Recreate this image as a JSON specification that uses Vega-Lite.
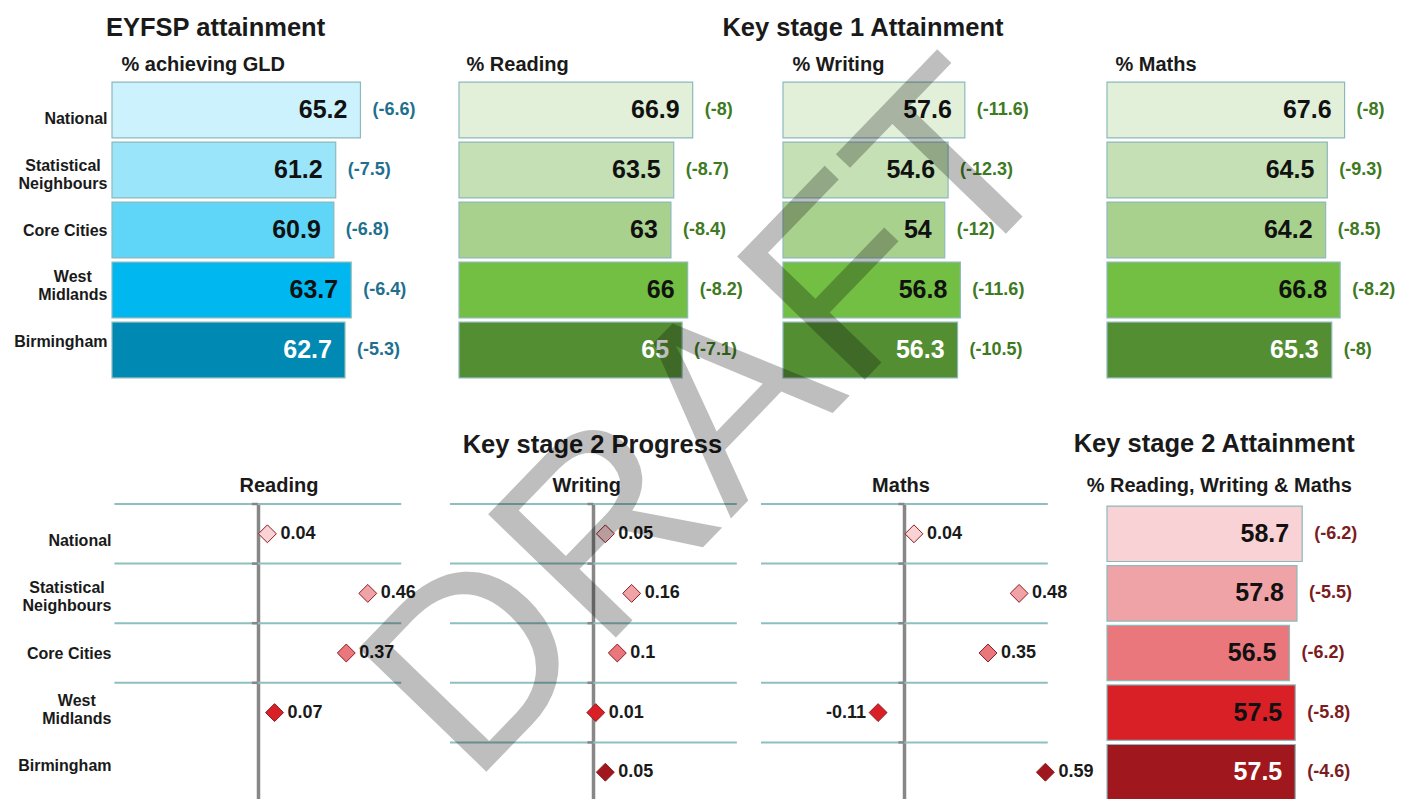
{
  "$schema": "https://vega.github.io/schema/vega-lite/v6.json",
  "padding": {"left": 13, "top": 16, "right": 10, "bottom": 0},
  "config": {
    "font": "Liberation Sans",
    "view": {"stroke": null},
    "title": {"fontSize": 25.5, "fontWeight": "bold", "color": "#1a1a1a", "anchor": "start", "frame": "group", "offset": 13},
    "axis": {"titleFontSize": 20, "titleFontWeight": "bold", "titleColor": "#1a1a1a"}
  },
  "datasets": {
    "eyfsp": [
      {"region": "National", "value": 65.2, "chg": "(-6.6)"},
      {"region": "Statistical Neighbours", "value": 61.2, "chg": "(-7.5)"},
      {"region": "Core Cities", "value": 60.9, "chg": "(-6.8)"},
      {"region": "West Midlands", "value": 63.7, "chg": "(-6.4)"},
      {"region": "Birmingham", "value": 62.7, "chg": "(-5.3)"}
    ],
    "ks1": [
      {"subject": "Reading", "region": "National", "value": 66.9, "chg": "(-8)"},
      {"subject": "Reading", "region": "Statistical Neighbours", "value": 63.5, "chg": "(-8.7)"},
      {"subject": "Reading", "region": "Core Cities", "value": 63, "chg": "(-8.4)"},
      {"subject": "Reading", "region": "West Midlands", "value": 66, "chg": "(-8.2)"},
      {"subject": "Reading", "region": "Birmingham", "value": 65, "chg": "(-7.1)"},
      {"subject": "Writing", "region": "National", "value": 57.6, "chg": "(-11.6)"},
      {"subject": "Writing", "region": "Statistical Neighbours", "value": 54.6, "chg": "(-12.3)"},
      {"subject": "Writing", "region": "Core Cities", "value": 54, "chg": "(-12)"},
      {"subject": "Writing", "region": "West Midlands", "value": 56.8, "chg": "(-11.6)"},
      {"subject": "Writing", "region": "Birmingham", "value": 56.3, "chg": "(-10.5)"},
      {"subject": "Maths", "region": "National", "value": 67.6, "chg": "(-8)"},
      {"subject": "Maths", "region": "Statistical Neighbours", "value": 64.5, "chg": "(-9.3)"},
      {"subject": "Maths", "region": "Core Cities", "value": 64.2, "chg": "(-8.5)"},
      {"subject": "Maths", "region": "West Midlands", "value": 66.8, "chg": "(-8.2)"},
      {"subject": "Maths", "region": "Birmingham", "value": 65.3, "chg": "(-8)"}
    ],
    "ks2p": [
      {"subject": "Reading", "region": "National", "value": 0.04},
      {"subject": "Reading", "region": "Statistical Neighbours", "value": 0.46},
      {"subject": "Reading", "region": "Core Cities", "value": 0.37},
      {"subject": "Reading", "region": "West Midlands", "value": 0.07},
      {"subject": "Reading", "region": "Birmingham", "value": null},
      {"subject": "Writing", "region": "National", "value": 0.05},
      {"subject": "Writing", "region": "Statistical Neighbours", "value": 0.16},
      {"subject": "Writing", "region": "Core Cities", "value": 0.1},
      {"subject": "Writing", "region": "West Midlands", "value": 0.01},
      {"subject": "Writing", "region": "Birmingham", "value": 0.05},
      {"subject": "Maths", "region": "National", "value": 0.04},
      {"subject": "Maths", "region": "Statistical Neighbours", "value": 0.48},
      {"subject": "Maths", "region": "Core Cities", "value": 0.35},
      {"subject": "Maths", "region": "West Midlands", "value": -0.11},
      {"subject": "Maths", "region": "Birmingham", "value": 0.59}
    ],
    "ks2a": [
      {"region": "National", "value": 58.7, "chg": "(-6.2)"},
      {"region": "Statistical Neighbours", "value": 57.8, "chg": "(-5.5)"},
      {"region": "Core Cities", "value": 56.5, "chg": "(-6.2)"},
      {"region": "West Midlands", "value": 57.5, "chg": "(-5.8)"},
      {"region": "Birmingham", "value": 57.5, "chg": "(-4.6)"}
    ]
  },
  "resolve": {"scale": {"x": "independent", "y": "independent", "fill": "independent"}},
  "spacing": -355,
  "vconcat": [
    {
      "hconcat": [
        {
          "width": 337, "height": 300,
          "data": {"name": "eyfsp"},
          "title": {"text": "EYFSP attainment", "dx": -6},
          "encoding": {
            "y": {"field": "region", "type": "nominal", "scale": {"domain": ["National", "Statistical Neighbours", "Core Cities", "West Midlands", "Birmingham"], "paddingInner": 0.07, "paddingOuter": 0.035}, "axis": null},
            "x": {"field": "value", "type": "quantitative", "scale": {"domain": [25, 79.53], "nice": false, "zero": false},
              "axis": {"orient": "top", "title": "% achieving GLD", "labels": false, "ticks": false, "domain": false, "grid": false, "titleX": 9, "titleY": -9.3, "titleAlign": "left", "titleBaseline": "alphabetic"}}
          },
          "layer": [
            {"mark": {"type": "bar", "stroke": "#8DB9BA", "strokeWidth": 1.2},
             "encoding": {"x2": {"datum": 25}, "fill": {"field": "region", "type": "nominal", "scale": {"domain": ["National", "Statistical Neighbours", "Core Cities", "West Midlands", "Birmingham"], "range": ["#CCF2FD", "#9BE5FB", "#5FD6F8", "#00B7EF", "#0089B3"]}, "legend": null}}},
            {"mark": {"type": "text", "align": "right", "baseline": "middle", "dx": -13, "fontSize": 25, "fontWeight": "bold"},
             "encoding": {"text": {"field": "value", "type": "nominal"}, "color": {"condition": {"test": "datum.region === 'Birmingham'", "value": "#ffffff"}, "value": "#111111"}}},
            {"mark": {"type": "text", "align": "left", "baseline": "middle", "dx": 12, "fontSize": 18, "fontWeight": "bold", "color": "#1F6F8F"},
             "encoding": {"text": {"field": "chg", "type": "nominal"}}},
            {"mark": {"type": "point", "opacity": 0},
             "encoding": {"y": {"field": "region", "type": "nominal", "scale": {"type": "point", "domain": ["National", "Statistical Neighbours", "Core Cities", "West Midlands", "Birmingham"], "padding": 0.7},
               "axis": {"orient": "left", "title": null, "ticks": false, "tickSize": 0, "domain": false, "grid": false, "labelFontSize": 16, "labelFontWeight": "bold", "labelColor": "#1a1a1a", "labelLineHeight": 18, "labelLimit": 200,
                 "labelPadding": {"condition": [{"test": "datum.value === 'Statistical Neighbours'", "value": 49.5}, {"test": "datum.value === 'West Midlands'", "value": 39.7}], "value": 5},
                 "labelAlign": {"condition": {"test": "datum.value === 'Statistical Neighbours' || datum.value === 'West Midlands'", "value": "center"}, "value": "right"},
                 "labelOffset": {"condition": {"test": "datum.value === 'Statistical Neighbours' || datum.value === 'West Midlands'", "value": -9}, "value": 0},
                 "labelExpr": "datum.value === 'Statistical Neighbours' ? ['Statistical', 'Neighbours'] : datum.value === 'West Midlands' ? ['West', 'Midlands'] : datum.label"}}}}
          ],
          "resolve": {"scale": {"y": "independent"}}
        },
        {
          "width": 314, "height": 300,
          "data": {"name": "ks1"},
          "transform": [{"filter": "datum.subject === 'Reading'"}],
          "encoding": {
            "y": {"field": "region", "type": "nominal", "scale": {"domain": ["National", "Statistical Neighbours", "Core Cities", "West Midlands", "Birmingham"], "paddingInner": 0.07, "paddingOuter": 0.035}, "axis": null},
            "x": {"field": "value", "type": "quantitative", "scale": {"domain": [25, 81.3], "nice": false, "zero": false},
              "axis": {"orient": "top", "title": "% Reading", "labels": false, "ticks": false, "domain": false, "grid": false, "titleX": 7, "titleY": -9.3, "titleAlign": "left", "titleBaseline": "alphabetic"}}
          },
          "layer": [
            {"mark": {"type": "bar", "stroke": "#8DB9BA", "strokeWidth": 1.2},
             "encoding": {"x2": {"datum": 25}, "fill": {"field": "region", "type": "nominal", "scale": {"domain": ["National", "Statistical Neighbours", "Core Cities", "West Midlands", "Birmingham"], "range": ["#E2F0D9", "#C5E0B4", "#A9D18E", "#72BF44", "#548E33"]}, "legend": null}}},
            {"mark": {"type": "text", "align": "right", "baseline": "middle", "dx": -13, "fontSize": 25, "fontWeight": "bold"},
             "encoding": {"text": {"field": "value", "type": "nominal"}, "color": {"condition": {"test": "datum.region === 'Birmingham'", "value": "#ffffff"}, "value": "#111111"}}},
            {"mark": {"type": "text", "align": "left", "baseline": "middle", "dx": 12, "fontSize": 18, "fontWeight": "bold", "color": "#3D7A22"},
             "encoding": {"text": {"field": "chg", "type": "nominal"}}}
          ]
        },
        {
          "width": 314, "height": 300,
          "data": {"name": "ks1"},
          "transform": [{"filter": "datum.subject === 'Writing'"}],
          "title": {"text": "Key stage 1 Attainment", "dx": -60.6},
          "encoding": {
            "y": {"field": "region", "type": "nominal", "scale": {"domain": ["National", "Statistical Neighbours", "Core Cities", "West Midlands", "Birmingham"], "paddingInner": 0.07, "paddingOuter": 0.035}, "axis": null},
            "x": {"field": "value", "type": "quantitative", "scale": {"domain": [25, 81.3], "nice": false, "zero": false},
              "axis": {"orient": "top", "title": "% Writing", "labels": false, "ticks": false, "domain": false, "grid": false, "titleX": 9, "titleY": -9.3, "titleAlign": "left", "titleBaseline": "alphabetic"}}
          },
          "layer": [
            {"mark": {"type": "bar", "stroke": "#8DB9BA", "strokeWidth": 1.2},
             "encoding": {"x2": {"datum": 25}, "fill": {"field": "region", "type": "nominal", "scale": {"domain": ["National", "Statistical Neighbours", "Core Cities", "West Midlands", "Birmingham"], "range": ["#E2F0D9", "#C5E0B4", "#A9D18E", "#72BF44", "#548E33"]}, "legend": null}}},
            {"mark": {"type": "text", "align": "right", "baseline": "middle", "dx": -13, "fontSize": 25, "fontWeight": "bold"},
             "encoding": {"text": {"field": "value", "type": "nominal"}, "color": {"condition": {"test": "datum.region === 'Birmingham'", "value": "#ffffff"}, "value": "#111111"}}},
            {"mark": {"type": "text", "align": "left", "baseline": "middle", "dx": 12, "fontSize": 18, "fontWeight": "bold", "color": "#3D7A22"},
             "encoding": {"text": {"field": "chg", "type": "nominal"}}}
          ]
        },
        {
          "width": 270, "height": 300,
          "data": {"name": "ks1"},
          "transform": [{"filter": "datum.subject === 'Maths'"}],
          "encoding": {
            "y": {"field": "region", "type": "nominal", "scale": {"domain": ["National", "Statistical Neighbours", "Core Cities", "West Midlands", "Birmingham"], "paddingInner": 0.07, "paddingOuter": 0.035}, "axis": null},
            "x": {"field": "value", "type": "quantitative", "scale": {"domain": [25, 73.41], "nice": false, "zero": false},
              "axis": {"orient": "top", "title": "% Maths", "labels": false, "ticks": false, "domain": false, "grid": false, "titleX": 8, "titleY": -9.3, "titleAlign": "left", "titleBaseline": "alphabetic"}}
          },
          "layer": [
            {"mark": {"type": "bar", "stroke": "#8DB9BA", "strokeWidth": 1.2},
             "encoding": {"x2": {"datum": 25}, "fill": {"field": "region", "type": "nominal", "scale": {"domain": ["National", "Statistical Neighbours", "Core Cities", "West Midlands", "Birmingham"], "range": ["#E2F0D9", "#C5E0B4", "#A9D18E", "#72BF44", "#548E33"]}, "legend": null}}},
            {"mark": {"type": "text", "align": "right", "baseline": "middle", "dx": -13, "fontSize": 25, "fontWeight": "bold"},
             "encoding": {"text": {"field": "value", "type": "nominal"}, "color": {"condition": {"test": "datum.region === 'Birmingham'", "value": "#ffffff"}, "value": "#111111"}}},
            {"mark": {"type": "text", "align": "left", "baseline": "middle", "dx": 12, "fontSize": 18, "fontWeight": "bold", "color": "#3D7A22"},
             "encoding": {"text": {"field": "chg", "type": "nominal"}}}
          ]
        }
      ],
      "spacing": 10,
      "bounds": "flush",
      "resolve": {"scale": {"x": "independent", "y": "independent", "fill": "independent"}}
    },
    {
      "hconcat": [
        {
          "width": 328, "height": 298,
          "data": {"name": "ks2p"},
          "transform": [{"filter": "datum.subject === 'Reading'"}],
          "title": {"text": "Key stage 2 Progress", "dx": 350.7, "offset": 16.9},
          "encoding": {
            "y": {"field": "region", "type": "nominal", "scale": {"domain": ["National", "Statistical Neighbours", "Core Cities", "West Midlands", "Birmingham"], "paddingInner": 0, "paddingOuter": 0}, "axis": null},
            "x": {"field": "value", "type": "quantitative", "scale": {"domain": [-0.61, 0.762], "nice": false, "zero": false},
              "axis": {"orient": "top", "title": "Reading", "labels": false, "ticks": false, "domain": false, "grid": true, "values": [0], "gridColor": "#878787", "gridWidth": 3.5, "titleX": 166.5, "titleY": -12.3, "titleAlign": "center", "titleBaseline": "alphabetic"}}
          },
          "layer": [
            {"mark": {"type": "rule", "color": "#8EBFBF", "strokeWidth": 2},
             "encoding": {"y": {"field": "region", "type": "nominal", "bandPosition": 0, "scale": {"domain": ["National", "Statistical Neighbours", "Core Cities", "West Midlands", "Birmingham"], "paddingInner": 0, "paddingOuter": 0}, "axis": null},
               "x": {"datum": -0.6}, "x2": {"datum": 0.6}}},
            {"mark": {"type": "rule", "color": "#878787", "strokeWidth": 2.5},
             "encoding": {"y": {"field": "region", "type": "nominal", "bandPosition": 0, "scale": {"domain": ["National", "Statistical Neighbours", "Core Cities", "West Midlands", "Birmingham"], "paddingInner": 0, "paddingOuter": 0}, "axis": null},
               "x": {"datum": -0.025}, "x2": {"datum": 0}}},
            {"mark": {"type": "point", "shape": "diamond", "size": 320, "filled": true, "opacity": 1, "stroke": "#8B1A1F", "strokeWidth": 1},
             "encoding": {"fill": {"field": "region", "type": "nominal", "scale": {"domain": ["National", "Statistical Neighbours", "Core Cities", "West Midlands", "Birmingham"], "range": ["#F8D2D4", "#F0A3A7", "#EA777C", "#D92027", "#A0181D"]}, "legend": null}}},
            {"transform": [{"filter": "datum.value >= 0"}],
             "mark": {"type": "text", "align": "left", "baseline": "middle", "dx": 13, "fontSize": 18, "fontWeight": "bold", "color": "#1a1a1a"},
             "encoding": {"text": {"field": "value", "type": "nominal"}}},
            {"transform": [{"filter": "datum.value < 0"}],
             "mark": {"type": "text", "align": "right", "baseline": "middle", "dx": -12, "fontSize": 18, "fontWeight": "bold", "color": "#1a1a1a"},
             "encoding": {"text": {"field": "value", "type": "nominal"}}},
            {"mark": {"type": "point", "opacity": 0},
             "encoding": {"x": {"datum": 0}, "y": {"field": "region", "type": "nominal", "scale": {"type": "point", "domain": ["National", "Statistical Neighbours", "Core Cities", "West Midlands", "Birmingham"], "padding": 0.66},
               "axis": {"orient": "left", "title": null, "ticks": false, "tickSize": 0, "domain": false, "grid": false, "labelFontSize": 16, "labelFontWeight": "bold", "labelColor": "#1a1a1a", "labelLineHeight": 18, "labelLimit": 200,
                 "labelPadding": {"condition": [{"test": "datum.value === 'Statistical Neighbours'", "value": 45.5}, {"test": "datum.value === 'West Midlands'", "value": 35.7}], "value": 1},
                 "labelAlign": {"condition": {"test": "datum.value === 'Statistical Neighbours' || datum.value === 'West Midlands'", "value": "center"}, "value": "right"},
                 "labelOffset": {"condition": {"test": "datum.value === 'Statistical Neighbours' || datum.value === 'West Midlands'", "value": -9}, "value": 0},
                 "labelExpr": "datum.value === 'Statistical Neighbours' ? ['Statistical', 'Neighbours'] : datum.value === 'West Midlands' ? ['West', 'Midlands'] : datum.label"}}}}
          ],
          "resolve": {"scale": {"y": "independent"}}
        },
        {
          "width": 301, "height": 298,
          "data": {"name": "ks2p"},
          "transform": [{"filter": "datum.subject === 'Writing'"}],
          "encoding": {
            "y": {"field": "region", "type": "nominal", "scale": {"domain": ["National", "Statistical Neighbours", "Core Cities", "West Midlands", "Birmingham"], "paddingInner": 0, "paddingOuter": 0}, "axis": null},
            "x": {"field": "value", "type": "quantitative", "scale": {"domain": [-0.6, 0.6594], "nice": false, "zero": false},
              "axis": {"orient": "top", "title": "Writing", "labels": false, "ticks": false, "domain": false, "grid": true, "values": [0], "gridColor": "#878787", "gridWidth": 3.5, "titleX": 136.3, "titleY": -12.3, "titleAlign": "center", "titleBaseline": "alphabetic"}}
          },
          "layer": [
            {"mark": {"type": "rule", "color": "#8EBFBF", "strokeWidth": 2},
             "encoding": {"y": {"field": "region", "type": "nominal", "bandPosition": 0, "scale": {"domain": ["National", "Statistical Neighbours", "Core Cities", "West Midlands", "Birmingham"], "paddingInner": 0, "paddingOuter": 0}, "axis": null}, "x": {"datum": -0.6}, "x2": {"datum": 0.6}}},
            {"mark": {"type": "rule", "color": "#878787", "strokeWidth": 2.5},
             "encoding": {"y": {"field": "region", "type": "nominal", "bandPosition": 0, "scale": {"domain": ["National", "Statistical Neighbours", "Core Cities", "West Midlands", "Birmingham"], "paddingInner": 0, "paddingOuter": 0}, "axis": null}, "x": {"datum": -0.025}, "x2": {"datum": 0}}},
            {"mark": {"type": "point", "shape": "diamond", "size": 320, "filled": true, "opacity": 1, "stroke": "#8B1A1F", "strokeWidth": 1},
             "encoding": {"fill": {"field": "region", "type": "nominal", "scale": {"domain": ["National", "Statistical Neighbours", "Core Cities", "West Midlands", "Birmingham"], "range": ["#F8D2D4", "#F0A3A7", "#EA777C", "#D92027", "#A0181D"]}, "legend": null}}},
            {"transform": [{"filter": "datum.value >= 0"}],
             "mark": {"type": "text", "align": "left", "baseline": "middle", "dx": 13, "fontSize": 18, "fontWeight": "bold", "color": "#1a1a1a"},
             "encoding": {"text": {"field": "value", "type": "nominal"}}},
            {"transform": [{"filter": "datum.value < 0"}],
             "mark": {"type": "text", "align": "right", "baseline": "middle", "dx": -12, "fontSize": 18, "fontWeight": "bold", "color": "#1a1a1a"},
             "encoding": {"text": {"field": "value", "type": "nominal"}}},
            {"transform": [{"filter": "datum.region === 'National'"}],
             "mark": {"type": "text", "align": "center", "baseline": "middle", "fontSize": 258, "fontWeight": "normal", "angle": -46, "color": "#000000", "opacity": 0.25, "dx": 82, "dy": -73},
             "encoding": {"x": {"datum": 0.49, "type": "quantitative"}, "text": {"value": "DRAFT"}}}
          ]
        },
        {
          "width": 336, "height": 298,
          "data": {"name": "ks2p"},
          "transform": [{"filter": "datum.subject === 'Maths'"}],
          "encoding": {
            "y": {"field": "region", "type": "nominal", "scale": {"domain": ["National", "Statistical Neighbours", "Core Cities", "West Midlands", "Birmingham"], "paddingInner": 0, "paddingOuter": 0}, "axis": null},
            "x": {"field": "value", "type": "quantitative", "scale": {"domain": [-0.6, 0.8059], "nice": false, "zero": false},
              "axis": {"orient": "top", "title": "Maths", "labels": false, "ticks": false, "domain": false, "grid": true, "values": [0], "gridColor": "#878787", "gridWidth": 3.5, "titleX": 139.5, "titleY": -12.3, "titleAlign": "center", "titleBaseline": "alphabetic"}}
          },
          "layer": [
            {"mark": {"type": "rule", "color": "#8EBFBF", "strokeWidth": 2},
             "encoding": {"y": {"field": "region", "type": "nominal", "bandPosition": 0, "scale": {"domain": ["National", "Statistical Neighbours", "Core Cities", "West Midlands", "Birmingham"], "paddingInner": 0, "paddingOuter": 0}, "axis": null}, "x": {"datum": -0.6}, "x2": {"datum": 0.6}}},
            {"mark": {"type": "rule", "color": "#878787", "strokeWidth": 2.5},
             "encoding": {"y": {"field": "region", "type": "nominal", "bandPosition": 0, "scale": {"domain": ["National", "Statistical Neighbours", "Core Cities", "West Midlands", "Birmingham"], "paddingInner": 0, "paddingOuter": 0}, "axis": null}, "x": {"datum": -0.025}, "x2": {"datum": 0}}},
            {"mark": {"type": "point", "shape": "diamond", "size": 320, "filled": true, "opacity": 1, "stroke": "#8B1A1F", "strokeWidth": 1},
             "encoding": {"fill": {"field": "region", "type": "nominal", "scale": {"domain": ["National", "Statistical Neighbours", "Core Cities", "West Midlands", "Birmingham"], "range": ["#F8D2D4", "#F0A3A7", "#EA777C", "#D92027", "#A0181D"]}, "legend": null}}},
            {"transform": [{"filter": "datum.value >= 0"}],
             "mark": {"type": "text", "align": "left", "baseline": "middle", "dx": 13, "fontSize": 18, "fontWeight": "bold", "color": "#1a1a1a"},
             "encoding": {"text": {"field": "value", "type": "nominal"}}},
            {"transform": [{"filter": "datum.value < 0"}],
             "mark": {"type": "text", "align": "right", "baseline": "middle", "dx": -12, "fontSize": 18, "fontWeight": "bold", "color": "#1a1a1a"},
             "encoding": {"text": {"field": "value", "type": "nominal"}}}
          ]
        },
        {
          "width": 223, "height": 298,
          "data": {"name": "ks2a"},
          "title": {"text": "Key stage 2 Attainment", "dx": -33.3, "offset": 18},
          "encoding": {
            "y": {"field": "region", "type": "nominal", "scale": {"domain": ["National", "Statistical Neighbours", "Core Cities", "West Midlands", "Birmingham"], "paddingInner": 0.07, "paddingOuter": 0.035}, "axis": null},
            "x": {"field": "value", "type": "quantitative", "scale": {"domain": [25, 63.5], "nice": false, "zero": false},
              "axis": {"orient": "top", "title": "% Reading, Writing & Maths", "labels": false, "ticks": false, "domain": false, "grid": false, "titleX": 111.8, "titleY": -13, "titleAlign": "center", "titleBaseline": "alphabetic"}}
          },
          "layer": [
            {"mark": {"type": "bar", "stroke": "#8DB9BA", "strokeWidth": 1.2},
             "encoding": {"x2": {"datum": 25}, "fill": {"field": "region", "type": "nominal", "scale": {"domain": ["National", "Statistical Neighbours", "Core Cities", "West Midlands", "Birmingham"], "range": ["#F8D2D4", "#F0A3A7", "#EA777C", "#D92027", "#A0181D"]}, "legend": null}}},
            {"mark": {"type": "text", "align": "right", "baseline": "middle", "dx": -13, "fontSize": 25, "fontWeight": "bold"},
             "encoding": {"text": {"field": "value", "type": "nominal"}, "color": {"condition": {"test": "datum.region === 'Birmingham'", "value": "#ffffff"}, "value": "#111111"}}},
            {"mark": {"type": "text", "align": "left", "baseline": "middle", "dx": 12, "fontSize": 18, "fontWeight": "bold", "color": "#7B1C1F"},
             "encoding": {"text": {"field": "chg", "type": "nominal"}}}
          ]
        }
      ],
      "spacing": 10,
      "bounds": "flush",
      "resolve": {"scale": {"x": "independent", "y": "independent", "fill": "independent"}}
    }
  ]
}
